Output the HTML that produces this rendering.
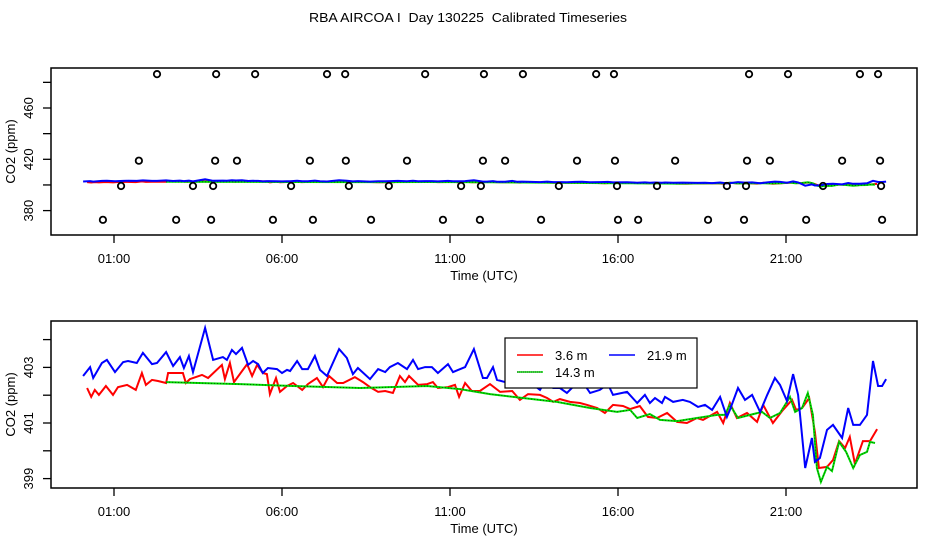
<!DOCTYPE html>
<html><head><meta charset="utf-8"><style>
html,body{margin:0;padding:0;background:#fff;}
svg{display:block;font-family:"Liberation Sans",sans-serif;}
</style></head><body>
<svg id="chart" width="936" height="540" viewBox="0 0 936 540" xmlns="http://www.w3.org/2000/svg">
<text x="468" y="22" font-size="13" text-anchor="middle" textLength="318" lengthAdjust="spacingAndGlyphs" style="white-space:pre">RBA AIRCOA I  Day 130225  Calibrated Timeseries</text>
<g id="top"></g>
<g id="bot"></g>
</svg>
<script>
const xTicks=[1,6,11,16,21];
const xTickLabels=["01:00","06:00","11:00","16:00","21:00"];
const topYTicks=[380,400,420,440,460,480];
const topYLabels=["380","","420","","460",""];
const botYTicks=[399,400,401,402,403,404];
const botYLabels=["399","","401","","403",""];
const seriesNames=["3.6 m","14.3 m","21.9 m"];
const seriesColors=["#ff0000","#00dd00","#0000ff"];
const blue=[[0.08,402.69],[0.29,403.01],[0.38,402.62],[0.64,403.16],[0.79,403.27],[1.03,402.83],[1.27,403.19],[1.42,403.23],[1.68,403.16],[1.86,403.52],[2.13,403.12],[2.28,403.16],[2.55,403.55],[2.76,403.05],[2.96,403.37],[3.08,402.98],[3.23,403.41],[3.35,402.83],[3.71,404.42],[3.95,403.27],[4.24,403.37],[4.36,403.27],[4.51,403.63],[4.63,403.48],[4.81,403.70],[4.99,403.09],[5.14,403.23],[5.29,403.12],[5.43,402.80],[5.58,402.98],[5.85,402.94],[6.0,402.80],[6.15,402.91],[6.24,402.87],[6.45,403.23],[6.6,402.94],[6.77,402.94],[6.98,403.41],[7.13,402.91],[7.34,402.69],[7.70,403.66],[7.93,403.34],[8.11,402.76],[8.26,402.98],[8.62,402.58],[8.86,402.94],[9.07,402.83],[9.21,403.01],[9.45,403.16],[9.72,402.94],[9.9,403.27],[10.05,402.94],[10.26,403.01],[10.46,403.01],[10.64,402.80],[10.94,403.12],[11.09,402.83],[11.24,402.91],[11.45,403.01],[11.71,403.66],[11.98,402.62],[12.1,402.62],[12.28,403.01],[12.4,402.55],[12.64,402.47],[12.85,403.12],[12.99,402.55],[13.14,402.65],[13.29,402.55],[13.68,402.19],[13.89,402.62],[14.07,402.26],[14.27,402.26],[14.48,402.08],[14.72,402.37],[14.93,402.51],[15.17,402.08],[15.46,402.19],[15.70,402.40],[15.85,402.01],[16.27,402.12],[16.57,401.72],[16.80,402.01],[16.95,401.72],[17.1,401.90],[17.31,401.72],[17.40,401.94],[17.64,401.76],[17.93,401.83],[18.14,401.76],[18.38,401.58],[18.59,401.65],[18.80,401.47],[19.04,401.94],[19.24,401.22],[19.33,401.47],[19.57,402.26],[19.78,401.83],[19.99,402.01],[20.23,401.40],[20.44,402.01],[20.67,402.62],[20.82,402.37],[21.03,401.79],[21.21,402.76],[21.36,402.01],[21.57,399.38],[21.77,400.46],[21.86,399.60],[22.01,399.74],[22.22,400.75],[22.40,400.93],[22.67,400.46],[22.85,401.54],[23.0,400.93],[23.2,400.93],[23.41,401.29],[23.59,403.23],[23.74,402.33],[23.86,402.33],[23.98,402.58]];
const red=[[0.20,402.26],[0.32,401.94],[0.43,402.19],[0.55,402.01],[0.76,402.33],[0.97,402.01],[1.12,402.29],[1.39,402.37],[1.65,402.19],[1.83,402.80],[1.95,402.37],[2.13,402.55],[2.31,402.51],[2.55,402.44],[2.61,402.80],[3.05,402.80],[3.14,402.44],[3.26,402.58],[3.62,402.73],[3.80,402.62],[4.21,403.09],[4.30,402.58],[4.45,403.16],[4.57,402.47],[4.96,403.12],[5.11,402.69],[5.26,403.09],[5.43,402.80],[5.55,402.76],[5.64,402.04],[5.82,402.62],[5.94,402.12],[6.15,402.33],[6.33,402.44],[6.60,402.19],[6.77,402.40],[7.04,402.62],[7.22,402.29],[7.40,402.69],[7.64,402.44],[7.82,402.44],[8.17,402.65],[8.41,402.47],[8.62,402.29],[8.86,402.12],[9.07,402.15],[9.30,402.08],[9.51,402.69],[9.66,402.47],[9.78,402.69],[10.05,402.37],[10.32,402.40],[10.49,402.47],[10.64,402.26],[10.94,402.29],[11.15,402.37],[11.27,401.94],[11.45,402.44],[11.65,402.15],[11.89,402.15],[12.19,402.40],[12.49,402.12],[12.85,402.15],[13.08,401.83],[13.32,402.04],[13.68,402.01],[13.89,401.90],[14.07,401.76],[14.27,401.86],[14.57,401.76],[14.87,401.72],[15.08,401.65],[15.38,401.54],[15.61,401.36],[15.85,401.65],[16.15,401.61],[16.36,401.50],[16.65,401.61],[16.89,401.22],[17.16,401.18],[17.46,401.36],[17.76,401.04],[18.05,401.00],[18.35,401.18],[18.53,401.11],[18.95,401.40],[19.13,401.00],[19.33,401.72],[19.54,401.18],[19.84,401.36],[20.14,401.04],[20.32,401.65],[20.61,401.00],[20.91,401.47],[21.18,401.83],[21.30,401.47],[21.48,401.54],[21.69,401.90],[21.86,400.68],[21.98,399.38],[22.22,399.42],[22.40,399.67],[22.58,400.35],[22.76,400.10],[22.90,400.50],[23.05,399.53],[23.29,400.35],[23.50,400.35],[23.71,400.78]];
const green=[[2.55,402.47],[4.75,402.40],[6.33,402.33],[8.32,402.26],[10.32,402.33],[11.30,402.22],[12.19,402.04],[13.17,401.90],[14.18,401.76],[15.17,401.54],[15.97,401.40],[16.36,401.47],[16.57,401.18],[16.95,401.32],[17.25,401.11],[17.76,401.07],[18.35,401.18],[18.95,401.29],[19.18,401.29],[19.33,401.65],[19.57,401.18],[20.02,401.32],[20.29,401.40],[20.52,401.18],[20.82,401.36],[21.12,401.94],[21.27,401.40],[21.48,401.54],[21.65,402.08],[21.80,401.29],[21.92,399.38],[22.04,398.88],[22.22,399.42],[22.37,399.27],[22.58,400.32],[22.79,399.96],[23.0,399.38],[23.20,399.85],[23.41,399.96],[23.50,400.32],[23.65,400.28]];
const outlierTimes=[2.28,4.04,5.20,7.34,7.88,10.26,12.01,13.17,15.35,15.88,19.90,21.06,23.20,23.74,1.74,4.01,4.66,6.83,7.90,9.72,11.98,12.64,14.78,15.91,17.70,19.84,20.52,22.67,23.80,1.21,3.35,3.95,6.27,7.99,9.18,11.33,11.92,14.24,15.97,17.16,19.24,19.81,22.10,23.83,0.67,2.85,3.89,5.73,6.92,8.65,10.79,11.89,13.71,16.0,16.6,18.68,19.75,21.6,23.86];
const outlierValues=[486.4,486.4,486.4,486.4,486.4,486.4,486.4,486.4,486.4,486.4,486.4,486.4,486.4,486.4,418.9,418.9,418.9,418.9,418.9,418.9,418.9,418.9,418.9,418.9,418.9,418.9,418.9,418.9,418.9,399.2,399.2,399.2,399.2,399.2,399.2,399.2,399.2,399.2,399.2,399.2,399.2,399.2,399.2,399.2,372.8,372.8,372.8,372.8,372.8,372.8,372.8,372.8,372.8,372.8,372.8,372.8,372.8,372.8,372.8];

const NS="http://www.w3.org/2000/svg";
const X0=51,X1=917;
function xs(t){return 114+(t-1)*33.6;}
function mk(tag,attrs,parent){const e=document.createElementNS(NS,tag);for(const k in attrs)e.setAttribute(k,attrs[k]);parent.appendChild(e);return e;}
function pathOf(data,ys){return data.map((p,i)=>(i?'L':'M')+xs(p[0]).toFixed(1)+' '+ys(p[1]).toFixed(1)).join(' ');}

function panel(g,top,bottom,ys,yTicks,yLabels,pfx){
  const box=mk('rect',{x:X0,y:top,width:X1-X0,height:bottom-top,fill:'none',stroke:'#000','stroke-width':1.5},g);
  
  
  xTicks.forEach((t,i)=>{
    const l=mk('line',{x1:xs(t),x2:xs(t),y1:bottom,y2:bottom+8,stroke:'#000','stroke-width':1.3},g);
    
    
    const tx=mk('text',{x:xs(t),y:bottom+28,'font-size':13,'text-anchor':'middle'},g);
    tx.textContent=xTickLabels[i];
    
    
  });
  yTicks.forEach((v,i)=>{
    const y=ys(v);
    const l=mk('line',{x1:X0-8,x2:X0,y1:y,y2:y,stroke:'#000','stroke-width':1.3},g);
    
    
    if(yLabels[i]){
      const tx=mk('text',{x:0,y:0,'font-size':13,'text-anchor':'middle',transform:`translate(33 ${y}) rotate(-90)`},g);
      tx.textContent=yLabels[i];
      
      
    }
  });
  const xt=mk('text',{x:484,y:bottom+45,'font-size':13,'text-anchor':'middle'},g);
  xt.textContent='Time (UTC)';
  
  
  const yt=mk('text',{x:0,y:0,'font-size':13,'text-anchor':'middle',transform:`translate(15 ${(top+bottom)/2}) rotate(-90)`},g);
  yt.textContent='CO2 (ppm)';
  
  
}
function lines(g,ys,pfx){
  const r=mk('path',{d:pathOf(red,ys),fill:'none',stroke:seriesColors[0],'stroke-width':2},g);
  
  
  const gr=mk('path',{d:pathOf(green,ys),fill:'none',stroke:seriesColors[1],'stroke-width':2},g);
  
  
  const gd=mk('path',{d:pathOf(green,ys),fill:'none',stroke:'#000','stroke-width':1,'stroke-dasharray':'1 2',opacity:0.6},g);
  
  
  const b=mk('path',{d:pathOf(blue,ys),fill:'none',stroke:seriesColors[2],'stroke-width':2},g);
  
  
}

// top panel
const tg=document.getElementById('top');
const ysT=v=>159.3-(v-420)*1.2825;
panel(tg,68,235,ysT,topYTicks,topYLabels,'top');
const lg=mk('g',{},tg);
lines(lg,ysT,'top');
outlierTimes.forEach((t,i)=>{
  const c=mk('circle',{cx:xs(t),cy:ysT(outlierValues[i]),r:3.2,fill:'none',stroke:'#000','stroke-width':1.8},tg);
  
  
});

// bottom panel
const bg=document.getElementById('bot');
const ysB=v=>423-(v-401)*27.8;
panel(bg,321,488,ysB,botYTicks,botYLabels,'bottom');
lines(bg,ysB,'bottom');

// legend
const leg=mk('g',{},bg);


mk('rect',{x:505,y:338,width:192,height:50,fill:'#fff',stroke:'#000','stroke-width':1.2},leg);
const entries=[[517,355,0],[517,372,1],[609,355,2]];
entries.forEach(([x,y,k])=>{
  const e=mk('g',{},leg);
  
  
  mk('line',{x1:x,x2:x+26,y1:y,y2:y,stroke:seriesColors[k],'stroke-width':1.5},e);
  if(k===1) mk('line',{x1:x,x2:x+26,y1:y,y2:y,stroke:'#000','stroke-width':1,'stroke-dasharray':'1 1',opacity:0.6},e);
  const t=mk('text',{x:x+38,y:y+5,'font-size':13},e);
  t.textContent=seriesNames[k];
});
</script>
</body></html>
